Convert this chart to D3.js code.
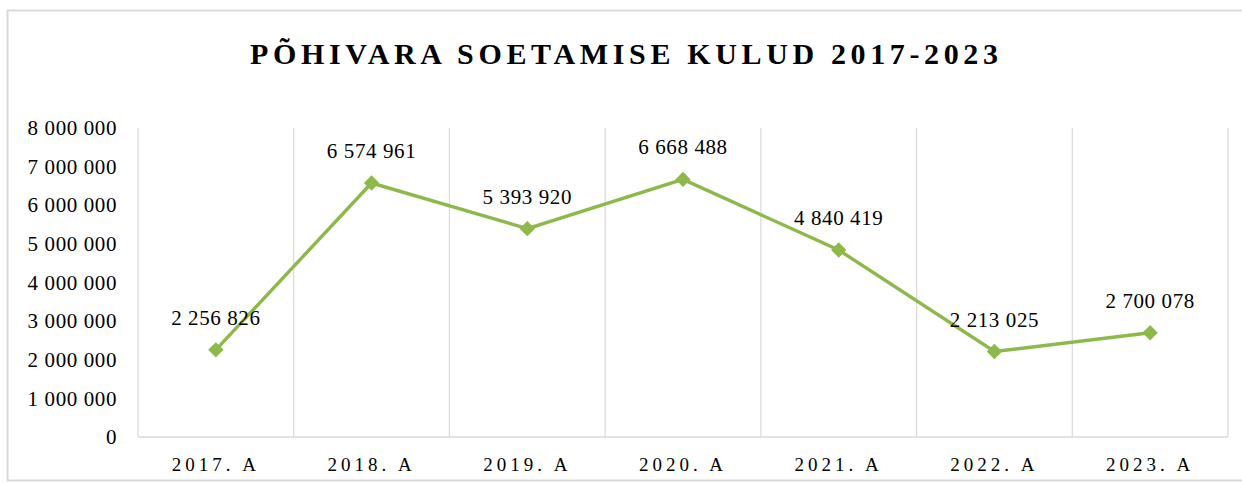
<!DOCTYPE html>
<html>
<head>
<meta charset="utf-8">
<script src="https://cdn.jsdelivr.net/npm/d3@7"></script>
<style>
  body { margin: 0; background: #fff; }
</style>
</head>
<body>
<div id="chart-area"></div>
<script>
// Chart data
let categories = ["2017. A", "2018. A", "2019. A", "2020. A", "2021. A", "2022. A", "2023. A"];
let values = [2256826, 6574961, 5393920, 6668488, 4840419, 2213025, 2700078];
let yTicks = [0, 1000000, 2000000, 3000000, 4000000, 5000000, 6000000, 7000000, 8000000];
let title = "PÕHIVARA SOETAMISE KULUD 2017-2023";

let width = 1242,
	height = 484;

let serif = "'Liberation Serif'";
let green = "#8db84a";

let margin = {top: 128, right: 14, bottom: 47, left: 138};

let svg = d3.select("#chart-area").append("svg")
	.attr("width", width)
	.attr("height", height);

// outer border
svg.append("rect")
	.attr("x", 7.5).attr("y", 10.5)
	.attr("width", 1250).attr("height", 470)
	.attr("fill", "none")
	.attr("stroke", "#d9d9d9")
	.attr("stroke-width", 2);

// title
svg.append("text")
	.attr("x", 250)
	.attr("y", 64)
	.attr("textLength", 748)
	.attr("lengthAdjust", "spacing")
	.style("font-family", serif)
	.style("font-size", "30px")
	.style("font-weight", "bold")
	.text(title);

let g = svg.append("g")
	.attr("transform", "translate(" + margin.left + "," + margin.top + ")");

let w = width - margin.left - margin.right,
	h = height - margin.top - margin.bottom;

let x = d3.scaleBand()
	.domain(categories)
	.range([0, w]);

let y = d3.scaleLinear()
	.domain([0, 8000000])
	.range([h, 0]);

// vertical gridlines at category boundaries
let bounds = categories.map(c => x(c)).concat([w]);
g.selectAll(".vgrid")
	.data(bounds)
	.enter()
	.append("line")
	.attr("x1", d => d).attr("x2", d => d)
	.attr("y1", 0).attr("y2", h)
	.attr("stroke", "#d9d9d9")
	.attr("stroke-width", 1.2);

// baseline
g.append("line")
	.attr("x1", 0).attr("x2", w)
	.attr("y1", h).attr("y2", h)
	.attr("stroke", "#d9d9d9")
	.attr("stroke-width", 1.5);

let fmt = v => d3.format(",")(v).replace(/,/g, " ");

// y axis
let yAxis = d3.axisLeft(y)
	.tickValues(yTicks)
	.tickSize(0)
	.tickPadding(21)
	.tickFormat(fmt);

g.append("g")
	.call(yAxis)
	.attr("font-family", null)
	.call(a => a.select(".domain").remove())
	.selectAll("text")
	.style("font-family", serif)
	.style("font-size", "21px")
	.style("letter-spacing", "0.6px")
	.attr("fill", "#000");

// x axis
let xAxis = d3.axisBottom(x)
	.tickSize(0)
	.tickPadding(21);

g.append("g")
	.attr("transform", "translate(0," + h + ")")
	.call(xAxis)
	.attr("font-family", null)
	.call(a => a.select(".domain").remove())
	.selectAll("text")
	.style("font-family", serif)
	.style("font-size", "19px")
	.style("letter-spacing", "4px")
	.attr("fill", "#000");

// line
let line = d3.line()
	.x((d, i) => x(categories[i]) + x.bandwidth() / 2)
	.y(d => y(d));

g.append("path")
	.datum(values)
	.attr("d", line)
	.attr("fill", "none")
	.attr("stroke", green)
	.attr("stroke-width", 3.4);

// diamond markers
g.selectAll(".marker")
	.data(values)
	.enter()
	.append("path")
	.attr("d", d3.symbol().type(d3.symbolDiamond2).size(150))
	.attr("transform", (d, i) => "translate(" + (x(categories[i]) + x.bandwidth() / 2) + "," + y(d) + ")")
	.attr("fill", green);

// data labels
g.selectAll(".label")
	.data(values)
	.enter()
	.append("text")
	.attr("x", (d, i) => x(categories[i]) + x.bandwidth() / 2)
	.attr("y", d => y(d) - 25)
	.attr("text-anchor", "middle")
	.style("font-family", serif)
	.style("font-size", "21px")
	.style("letter-spacing", "0.6px")
	.text(d => fmt(d));
</script>
</body>
</html>
